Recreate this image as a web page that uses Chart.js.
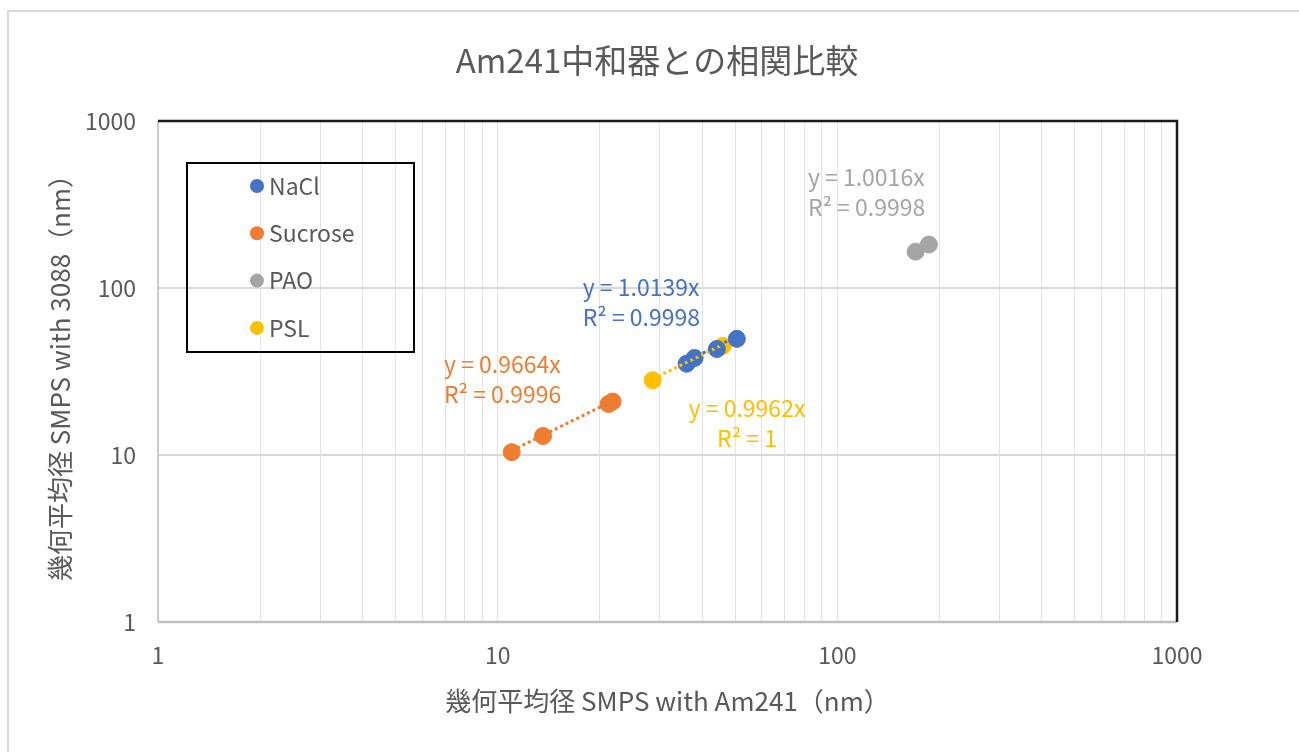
<!DOCTYPE html>
<html>
<head>
<meta charset="utf-8">
<script src="https://cdn.jsdelivr.net/npm/chart.js@4.4.1/dist/chart.umd.min.js"></script>
<style>
html, body { margin: 0; padding: 0; background: #fff; }
canvas { display: block; }
</style>
</head>
<body>
<canvas id="chart" width="1299" height="752"></canvas>
<script>
// data
var seriesNames = ['NaCl', 'Sucrose', 'PAO', 'PSL'];
var seriesColors = ['#4472C4', '#ED7D31', '#A5A5A5', '#FFC000'];
var naclX = [36.0, 38.0, 44.2, 50.6];
var naclY = [35.2, 38.1, 43.1, 49.6];
var sucroseX = [11.0, 13.6, 21.2, 21.8];
var sucroseY = [10.4, 13.0, 20.2, 20.9];
var paoX = [170, 186];
var paoY = [165, 182];
var pslX = [28.6, 46.0];
var pslY = [28.0, 45.0];
var slopes = [1.0139, 0.9664, 1.0016, 0.9962];
var rSquared = ['0.9998', '0.9996', '0.9998', '1'];
var tickValues = [1, 10, 100, 1000];

var FONT = "'Noto Sans CJK JP', 'Noto Sans', sans-serif";
var TEXT = '#595959';

var xs = [naclX, sucroseX, paoX, pslX];
var ys = [naclY, sucroseY, paoY, pslY];

// all log grid positions (1..9 per decade)
var gridValues = [];
for (var d = 1; d < 1000; d *= 10) {
  for (var k = 1; k < 10; k++) gridValues.push(d * k);
}
gridValues.push(1000);

function isDecade(v) { return tickValues.indexOf(v) >= 0; }

var datasets = [];
// trendlines (y = a x through the data range), drawn on top of markers
for (var i = 0; i < 4; i++) {
  var lo = Math.min.apply(null, xs[i]), hi = Math.max.apply(null, xs[i]);
  datasets.push({
    label: seriesNames[i] + ' trend',
    data: [{x: lo, y: slopes[i] * lo}, {x: hi, y: slopes[i] * hi}],
    showLine: true,
    borderColor: seriesColors[i],
    borderWidth: 3,
    borderDash: [3, 3],
    pointRadius: 0,
    order: 0
  });
}
for (var i = 0; i < 4; i++) {
  datasets.push({
    label: seriesNames[i],
    data: xs[i].map(function (x, j) { return {x: x, y: ys[this][j]}; }, i),
    backgroundColor: seriesColors[i],
    borderColor: seriesColors[i],
    borderWidth: 1,
    pointRadius: 8.5,
    pointHoverRadius: 8.5,
    order: 1
  });
}

// where the trendline labels sit, in data units
var labelSpots = [
  {x: 17.8, y: 101, align: 'left'},
  {x: 6.95, y: 35.1, align: 'left'},
  {x: 81.9, y: 462, align: 'left'},
  {x: 54.2, y: 19.1, align: 'center'}
];

var decor = {
  id: 'decor',
  beforeDraw: function (chart) {
    var ctx = chart.ctx;
    ctx.save();
    ctx.fillStyle = '#fff';
    ctx.fillRect(0, 0, chart.width, chart.height);
    ctx.strokeStyle = '#D9D9D9';
    ctx.lineWidth = 2;
    ctx.strokeRect(8, 11, 1320, 800);
    ctx.restore();
  },
  beforeDatasetsDraw: function (chart) {
    var ctx = chart.ctx, a = chart.chartArea;
    ctx.save();
    ctx.strokeStyle = '#BFBFBF';
    ctx.lineWidth = 1.5;
    ctx.beginPath(); ctx.moveTo(a.left, a.top); ctx.lineTo(a.left, a.bottom); ctx.stroke();
    ctx.lineWidth = 2.5;
    ctx.beginPath(); ctx.moveTo(a.left, a.bottom); ctx.lineTo(a.right, a.bottom); ctx.stroke();
    ctx.strokeStyle = '#1a1a1a';
    ctx.lineWidth = 2.5;
    ctx.beginPath(); ctx.moveTo(a.left, a.top); ctx.lineTo(a.right, a.top); ctx.lineTo(a.right, a.bottom); ctx.stroke();
    ctx.restore();
  },
  afterDraw: function (chart) {
    var ctx = chart.ctx, a = chart.chartArea;
    var sx = chart.scales.x, sy = chart.scales.y;
    ctx.save();
    ctx.fillStyle = TEXT;
    ctx.textBaseline = 'middle';
    ctx.textAlign = 'center';
    ctx.font = '33px ' + FONT;
    ctx.fillText('Am241中和器との相関比較', 657, 60);
    ctx.font = '26px ' + FONT;
    ctx.fillText('幾何平均径 SMPS with Am241（nm）', (a.left + a.right) / 2, 701);
    ctx.save();
    ctx.translate(60, (a.top + a.bottom) / 2);
    ctx.rotate(-Math.PI / 2);
    ctx.fillText('幾何平均径 SMPS with 3088（nm）', 0, 0);
    ctx.restore();

    // trendline equations
    ctx.font = '23px ' + FONT;
    for (var i = 0; i < 4; i++) {
      var p = labelSpots[i];
      var px = sx.getPixelForValue(p.x), py = sy.getPixelForValue(p.y);
      ctx.fillStyle = seriesColors[i];
      ctx.textAlign = p.align;
      ctx.fillText('y = ' + slopes[i].toFixed(4) + 'x', px, py);
      ctx.fillText('R² = ' + rSquared[i], px, py + 30);
    }

    // legend box
    ctx.strokeStyle = '#000';
    ctx.lineWidth = 2;
    ctx.strokeRect(187, 163, 227, 189);
    ctx.font = '23px ' + FONT;
    ctx.textAlign = 'left';
    for (var i = 0; i < 4; i++) {
      var ly = 186 + i * 47.3;
      ctx.fillStyle = seriesColors[i];
      ctx.beginPath(); ctx.arc(257, ly, 7, 0, Math.PI * 2); ctx.fill();
      ctx.fillStyle = TEXT;
      ctx.fillText(seriesNames[i], 269, ly);
    }
    ctx.restore();
  }
};

function logAxis(fit, gridOpts, pad) {
  return {
    type: 'logarithmic',
    min: 1,
    max: 1000,
    border: {display: false},
    grid: gridOpts,
    afterBuildTicks: function (scale) {
      scale.ticks = gridValues.map(function (v) { return {value: v, major: isDecade(v)}; });
    },
    afterFit: fit,
    ticks: {
      autoSkip: false,
      maxRotation: 0,
      padding: pad,
      color: TEXT,
      font: {family: FONT, size: 23},
      callback: function (v) { return isDecade(v) ? String(v) : ''; }
    }
  };
}

new Chart(document.getElementById('chart'), {
  type: 'scatter',
  data: {datasets: datasets},
  options: {
    responsive: false,
    animation: false,
    devicePixelRatio: 1,
    layout: {padding: {left: 0, top: 121, right: 122, bottom: 0}},
    plugins: {legend: {display: false}, tooltip: {enabled: false}, title: {display: false}},
    scales: {
      x: logAxis(function (s) { s.height = 130; },
        {drawTicks: false, color: '#E3E3E3', lineWidth: 1}, 19),
      y: logAxis(function (s) { s.width = 158; },
        {drawTicks: false, lineWidth: 2,
         color: function (c) { return c.tick && isDecade(c.tick.value) ? '#D9D9D9' : 'rgba(0,0,0,0)'; }}, 22)
    }
  },
  plugins: [decor]
});
</script>
</body>
</html>
